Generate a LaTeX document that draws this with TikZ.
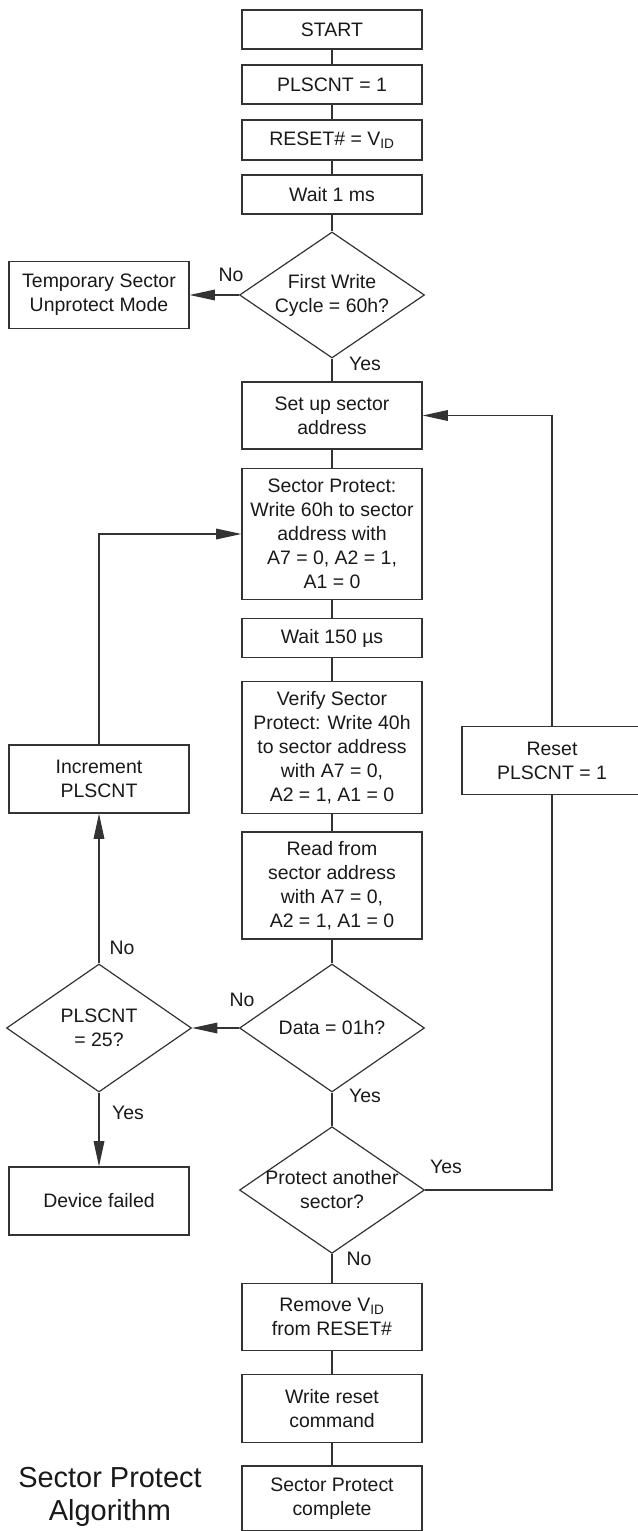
\documentclass[tikz,border=0pt]{standalone}
\usepackage{fontspec}
\setmainfont{Liberation Sans}
\usetikzlibrary{shapes.geometric,arrows.meta}

\tikzset{
  box/.style={draw=black!80, line width=0.9pt, minimum width=135pt, inner sep=0.75pt,
    align=center, text=black!90, font=\fontsize{14.6}{18}\selectfont},
  dec/.style={draw=black!80, line width=0.9pt, diamond, aspect=1.46, inner sep=-4pt,
    minimum width=138.75pt, align=center, text=black!90, font=\fontsize{14.6}{18}\selectfont},
  lbl/.style={inner sep=0.75pt, text=black!90, font=\fontsize{14.6}{18}\selectfont},
  link/.style={draw=black!80, line width=0.9pt},
  flow/.style={link, -{Triangle[length=19pt,width=8pt]}}
}

\begin{document}
\begin{tikzpicture}[x=0.75pt,y=0.75pt,yscale=-1,xscale=1]
\useasboundingbox (0,0) rectangle (637,1531);

%Main column
\node[box, minimum height=29.25pt] (start) at (332,29.5) {START};
\node[box, minimum height=29.25pt] (plscnt) at (332,84.5) {PLSCNT = 1};
\node[box, minimum height=30pt] (vid) at (332,140) {RESET\# = V\textsubscript{ID}};
\node[box, minimum height=29.25pt] (wait1) at (332,194.5) {Wait 1 ms};
\node[dec, minimum height=94.5pt] (first) at (332,295) {First Write\\ Cycle = 60h?};
\node[box, minimum height=50.25pt] (setup) at (332,415.5) {Set up sector\\ address};
\node[box, minimum height=98.25pt] (prot) at (332,534) {Sector Protect:\\ Write 60h to sector\\ address with\\ A7 = 0, A2 = 1,\\ A1 = 0};
\node[box, minimum height=29.25pt] (wait150) at (332,638) {Wait 150 µs};
\node[box, minimum height=98.7pt] (verify) at (332,747.5) {Verify Sector\\ Protect: Write 40h\\ to sector address\\ with A7 = 0,\\ A2 = 1, A1 = 0};
\node[box, minimum height=80.25pt] (read) at (332,885.4) {Read from\\ sector address\\ with A7 = 0,\\ A2 = 1, A1 = 0};
\node[dec, minimum height=96pt] (data) at (332,1028) {Data = 01h?};
\node[dec, minimum height=95pt] (another) at (332,1190) {Protect another\\ sector?};
\node[box, minimum height=50.5pt] (remove) at (332,1317) {Remove V\textsubscript{ID}\\ from RESET\#};
\node[box, minimum height=51pt] (wreset) at (332,1408.3) {Write reset\\ command};
\node[box, minimum height=48.75pt] (done) at (332,1498.5) {Sector Protect\\ complete};

%Side boxes
\node[box, minimum height=50.25pt] (tsu) at (99,295) {Temporary Sector\\ Unprotect Mode};
\node[box, minimum height=51pt] (incr) at (99,779) {Increment\\ PLSCNT};
\node[dec, minimum height=96pt] (cnt25) at (99,1028) {PLSCNT\\ = 25?};
\node[box, minimum height=51pt] (fail) at (99,1201) {Device failed};
\node[box, minimum height=50.7pt] (rst) at (552,760.5) {Reset\\ PLSCNT = 1};

% Text Node
\node[lbl] (nofirst) at (231,275) {No};
\node[lbl] (yesfirst) at (365,364) {Yes};
\node[lbl] (nodata) at (242,1000) {No};
\node[lbl] (yesdata) at (365,1096) {Yes};
\node[lbl] (nocnt) at (122,948) {No};
\node[lbl] (yescnt) at (128,1113) {Yes};
\node[lbl] (yesanother) at (446,1167) {Yes};
\node[lbl] (noanother) at (359,1259) {No};
\node[lbl, align=center, font=\fontsize{21.7}{24.75}\selectfont] (title) at (110,1496.5) {Sector Protect\\ Algorithm};

%Straight Lines
\draw[link] (start) -- (plscnt);
\draw[link] (plscnt) -- (vid);
\draw[link] (vid) -- (wait1);
\draw[link] (wait1) -- (first);
\draw[link] (first) -- (setup);
\draw[link] (setup) -- (prot);
\draw[link] (prot) -- (wait150);
\draw[link] (wait150) -- (verify);
\draw[link] (verify) -- (read);
\draw[link] (read) -- (data);
\draw[link] (data) -- (another);
\draw[link] (another) -- (remove);
\draw[link] (remove) -- (wreset);
\draw[link] (wreset) -- (done);

%Arrows
\draw[flow] (first) -- (tsu);
\draw[flow] (data) -- (cnt25);
\draw[flow] (cnt25) -- (incr);
\draw[flow] (cnt25) -- (fail);
\draw[flow] (incr.north) |- (prot.west);
\draw[link] (another.east) -| (rst.south);
\draw[flow] (rst.north) |- (setup.east);

\end{tikzpicture}
\end{document}
